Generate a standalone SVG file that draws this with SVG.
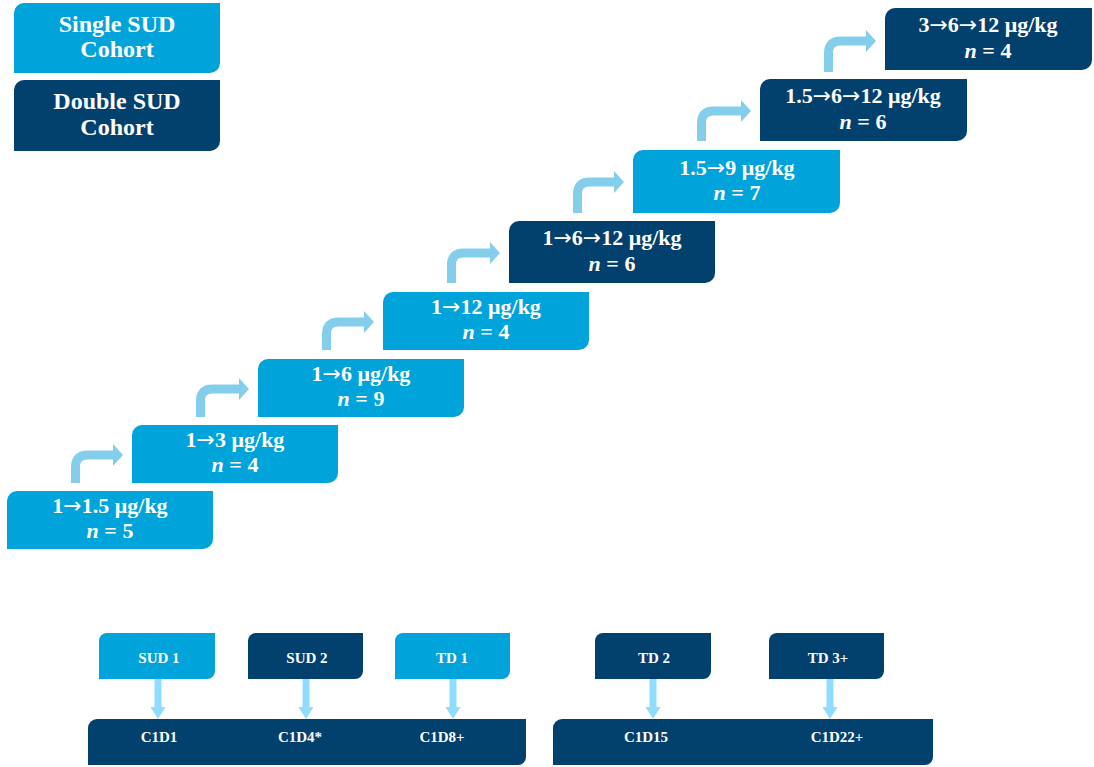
<svg xmlns="http://www.w3.org/2000/svg" width="1094" height="767" viewBox="0 0 1094 767">
<defs>
<style>
.light{fill:#00A3DA}
.dark{fill:#02406E}
.t{font-family:"Liberation Serif","Times New Roman",serif;font-weight:bold;fill:#FFFFFF;text-anchor:middle}
.a{font-family:"DejaVu Sans",sans-serif;font-weight:normal}
.leg{font-size:24px}
.st{font-size:22px}
.sm{font-size:15px}
.bend{fill:none;stroke:#84CEEC;stroke-width:9}
.head{fill:#84CEEC}
.down{fill:none;stroke:#8EDCFF;stroke-width:7}
.dhead{fill:#8EDCFF}
</style>
</defs>
<rect width="1094" height="767" fill="#FFFFFF"/>

<g id="legend-single">
<path class="light" d="M24 3 H220 V63 A10 10 0 0 1 210 73 H14 V13 A10 10 0 0 1 24 3 Z"/>
<text class="t leg" x="117" y="32">Single SUD</text>
<text class="t leg" x="117" y="57">Cohort</text>
</g>
<g id="legend-double">
<path class="dark" d="M24 80 H220 V141 A10 10 0 0 1 210 151 H14 V90 A10 10 0 0 1 24 80 Z"/>
<text class="t leg" x="117" y="109">Double SUD</text>
<text class="t leg" x="117" y="135">Cohort</text>
</g>

<g id="connectors">
<path class="bend" d="M75.5 483 V467 Q75.5 455 87.5 455 H114"/>
<polygon class="head" points="113,444 123,455 113,466"/>
<path class="bend" d="M200.5 417 V401 Q200.5 389 212.5 389 H239"/>
<polygon class="head" points="239,378 249,389 239,400"/>
<path class="bend" d="M326.5 350 V334 Q326.5 322 338.5 322 H364"/>
<polygon class="head" points="364,311 374,322 364,333"/>
<path class="bend" d="M451.5 283 V265 Q451.5 253 463.5 253 H490"/>
<polygon class="head" points="490,242 500,253 490,264"/>
<path class="bend" d="M577.5 213 V194 Q577.5 182 589.5 182 H614"/>
<polygon class="head" points="614,171 624,182 614,193"/>
<path class="bend" d="M701.5 141 V123 Q701.5 111 713.5 111 H741"/>
<polygon class="head" points="741,100 751,111 741,122"/>
<path class="bend" d="M828.5 72 V53 Q828.5 41 840.5 41 H866"/>
<polygon class="head" points="866,30 876,41 866,52"/>

<path class="down" d="M158 679 V708"/>
<polygon class="dhead" points="150.5,707 165.5,707 158,719"/>
<path class="down" d="M306 679 V708"/>
<polygon class="dhead" points="298.5,707 313.5,707 306,719"/>
<path class="down" d="M453 679 V708"/>
<polygon class="dhead" points="445.5,707 460.5,707 453,719"/>
<path class="down" d="M653 679 V708"/>
<polygon class="dhead" points="645.5,707 660.5,707 653,719"/>
<path class="down" d="M830 679 V708"/>
<polygon class="dhead" points="822.5,707 837.5,707 830,719"/>
</g>

<g id="step1">
<path class="light" d="M17 491 H213 V539 A10 10 0 0 1 203 549 H7 V501 A10 10 0 0 1 17 491 Z"/>
<text class="t st" x="110" y="513">1<tspan class="a">→</tspan>1.5 μg/kg</text>
<text class="t st" x="110" y="538"><tspan font-style="italic">n</tspan> = 5</text>
</g>
<g id="step2">
<path class="light" d="M142 425 H338 V473 A10 10 0 0 1 328 483 H132 V435 A10 10 0 0 1 142 425 Z"/>
<text class="t st" x="235" y="447">1<tspan class="a">→</tspan>3 μg/kg</text>
<text class="t st" x="235" y="472"><tspan font-style="italic">n</tspan> = 4</text>
</g>
<g id="step3">
<path class="light" d="M268 359 H464 V407 A10 10 0 0 1 454 417 H258 V369 A10 10 0 0 1 268 359 Z"/>
<text class="t st" x="361" y="381">1<tspan class="a">→</tspan>6 μg/kg</text>
<text class="t st" x="361" y="406"><tspan font-style="italic">n</tspan> = 9</text>
</g>
<g id="step4">
<path class="light" d="M393 292 H589 V340 A10 10 0 0 1 579 350 H383 V302 A10 10 0 0 1 393 292 Z"/>
<text class="t st" x="486" y="314">1<tspan class="a">→</tspan>12 μg/kg</text>
<text class="t st" x="486" y="339"><tspan font-style="italic">n</tspan> = 4</text>
</g>
<g id="step5">
<path class="dark" d="M519 221 H715 V273 A10 10 0 0 1 705 283 H509 V231 A10 10 0 0 1 519 221 Z"/>
<text class="t st" x="612" y="245">1<tspan class="a">→</tspan>6<tspan class="a">→</tspan>12 μg/kg</text>
<text class="t st" x="612" y="271"><tspan font-style="italic">n</tspan> = 6</text>
</g>
<g id="step6">
<path class="light" d="M643 150 H840 V203 A10 10 0 0 1 830 213 H633 V160 A10 10 0 0 1 643 150 Z"/>
<text class="t st" x="737" y="175">1.5<tspan class="a">→</tspan>9 μg/kg</text>
<text class="t st" x="737" y="200"><tspan font-style="italic">n</tspan> = 7</text>
</g>
<g id="step7">
<path class="dark" d="M770 79 H967 V131 A10 10 0 0 1 957 141 H760 V89 A10 10 0 0 1 770 79 Z"/>
<text class="t st" x="863" y="103">1.5<tspan class="a">→</tspan>6<tspan class="a">→</tspan>12 μg/kg</text>
<text class="t st" x="863" y="129"><tspan font-style="italic">n</tspan> = 6</text>
</g>
<g id="step8">
<path class="dark" d="M895 8 H1092 V60 A10 10 0 0 1 1082 70 H885 V18 A10 10 0 0 1 895 8 Z"/>
<text class="t st" x="988" y="32">3<tspan class="a">→</tspan>6<tspan class="a">→</tspan>12 μg/kg</text>
<text class="t st" x="988" y="58"><tspan font-style="italic">n</tspan> = 4</text>
</g>

<g id="sud1">
<path class="light" d="M107 633 H215 V671 A8 8 0 0 1 207 679 H99 V641 A8 8 0 0 1 107 633 Z"/>
<text class="t sm" x="159" y="663">SUD 1</text>
</g>
<g id="sud2">
<path class="dark" d="M256 633 H363 V671 A8 8 0 0 1 355 679 H248 V641 A8 8 0 0 1 256 633 Z"/>
<text class="t sm" x="307" y="663">SUD 2</text>
</g>
<g id="td1">
<path class="light" d="M403 633 H510 V671 A8 8 0 0 1 502 679 H395 V641 A8 8 0 0 1 403 633 Z"/>
<text class="t sm" x="452" y="663">TD 1</text>
</g>
<g id="td2">
<path class="dark" d="M603 633 H711 V671 A8 8 0 0 1 703 679 H595 V641 A8 8 0 0 1 603 633 Z"/>
<text class="t sm" x="654" y="663">TD 2</text>
</g>
<g id="td3">
<path class="dark" d="M777 633 H884 V671 A8 8 0 0 1 876 679 H769 V641 A8 8 0 0 1 777 633 Z"/>
<text class="t sm" x="828" y="663">TD 3+</text>
</g>

<g id="timeline1">
<path class="dark" d="M97 719 H526 V757 A8 8 0 0 1 518 765 H88 V728 A9 9 0 0 1 97 719 Z"/>
<text class="t sm" x="159" y="742">C1D1</text>
<text class="t sm" x="300" y="742">C1D4*</text>
<text class="t sm" x="442" y="742">C1D8+</text>
</g>
<g id="timeline2">
<path class="dark" d="M562 719 H933 V757 A8 8 0 0 1 925 765 H553 V728 A9 9 0 0 1 562 719 Z"/>
<text class="t sm" x="646" y="742">C1D15</text>
<text class="t sm" x="837" y="742">C1D22+</text>
</g>
</svg>
